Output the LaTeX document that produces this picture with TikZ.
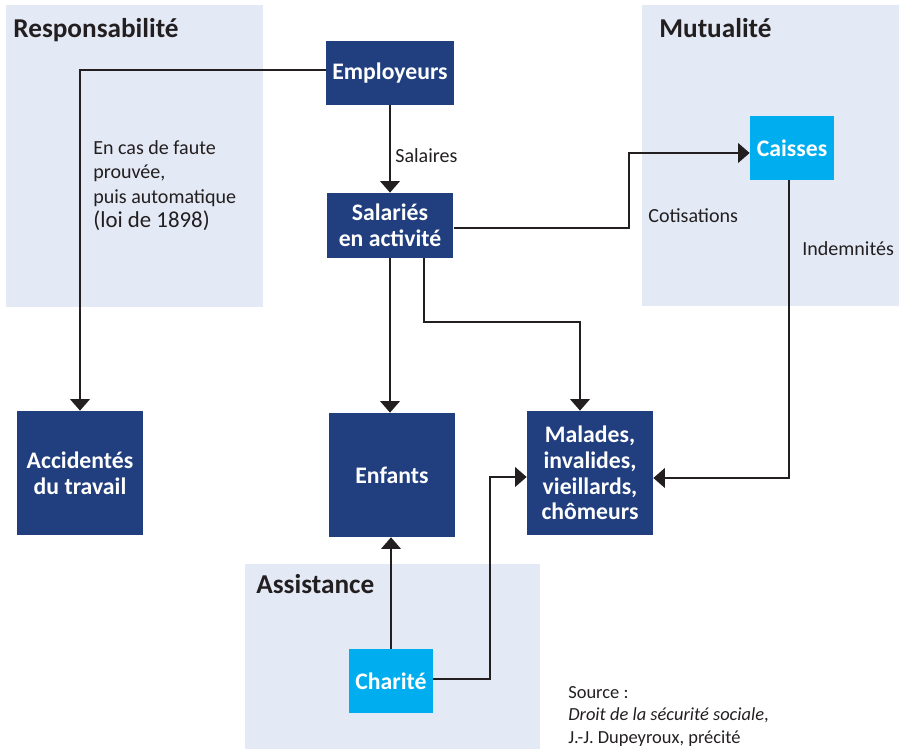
\documentclass[tikz,border=0pt]{standalone}
\usepackage{fontspec}
\setmainfont{Carlito}
\usetikzlibrary{arrows.meta}
\definecolor{boxblue}{HTML}{213F7E}
\definecolor{boxcyan}{HTML}{00AEEF}
\definecolor{panelblue}{HTML}{E3E9F5}
\definecolor{linegray}{HTML}{231F20}
\tikzset{
    panel/.style={fill=panelblue},
    heading/.style={anchor=base west,inner sep=0pt,text=linegray,font=\fontsize{15.5}{18}\selectfont\bfseries},
    darkbox/.style={fill=boxblue,text=white,align=center,inner sep=0pt,font=\fontsize{13.5}{14.6}\selectfont\bfseries},
    lightbox/.style={darkbox,fill=boxcyan},
    notetext/.style={inner sep=0pt,text=linegray,align=left,font=\fontsize{11.4}{13.9}\selectfont},
    link/.style={draw=linegray,line width=1.15pt,-{Triangle[length=6.5pt,width=11pt]}}
}
\begin{document}
\begin{tikzpicture}[x=0.02cm,y=-0.02cm]
        \useasboundingbox (0,0) rectangle (899,749);
        %% panels
        \foreach \a/\b/\c/\d in {6/5/263/307,642/5/899/306,245/564/540/749} {
            \fill[panel] (\a,\b) rectangle (\c,\d);
        }
        \node[heading] (resp) at (13,38) {Responsabilité};
        \node[heading] (mutu) at (659,38) {Mutualité};
        \node[heading] (assi) at (256,593) {Assistance};
        %% boxes
        \node[darkbox,minimum width=2.56cm,minimum height=1.28cm] (empl) at (390,73) {Employeurs};
        \node[darkbox,minimum width=2.54cm,minimum height=1.3cm] (sala) at (390,225.5) {Salariés\\en activité};
        \node[lightbox,minimum width=1.68cm,minimum height=1.28cm] (cais) at (792,148) {Caisses};
        \node[darkbox,minimum width=2.52cm,minimum height=2.48cm] (acci) at (80,473) {Accidentés\\du travail};
        \node[darkbox,minimum width=2.52cm,minimum height=2.48cm] (enfa) at (392,475) {Enfants};
        \node[darkbox,minimum width=2.52cm,minimum height=2.48cm] (mala) at (590,473) {Malades,\\invalides,\\vieillards,\\chômeurs};
        \node[lightbox,minimum width=1.68cm,minimum height=1.28cm] (char) at (391,681) {Charité};
        %% texts
        \node[notetext,anchor=north west] (faute) at (93,140) {En cas de faute\\prouvée,\\puis automatique\\{\fontsize{13}{13.9}\selectfont(loi de 1898)}};
        \node[notetext,anchor=base west] (sal) at (395,163) {Salaires};
        \node[notetext,anchor=base west] (coti) at (648,223) {Cotisations};
        \node[notetext,anchor=base west] (inde) at (802,256) {Indemnités};
        \node[notetext,anchor=north west,font=\fontsize{10.5}{12.8}\selectfont] (sour) at (568,686) {Source :\\\textit{Droit de la sécurité sociale},\\J.-J. Dupeyroux, précité};
        %% links
        \draw[link] ([yshift=0.06cm]empl.west) -| (acci.north);
        \draw[link] (empl) -- (sala);
        \draw[link] ([yshift=-0.05cm]sala.east) -- ++(175,0) |- ([yshift=-0.1cm]cais.west);
        \draw[link] (sala.south) -- (sala.south |- enfa.north);
        \draw[link] ([xshift=0.68cm]sala.south) -- ++(0,64) -| ([xshift=-0.2cm]mala.north);
        \draw[link] ([xshift=-0.06cm]cais.south) |- ([yshift=-0.1cm]mala.east);
        \draw[link] ([yshift=0.04cm]char.east) -- ++(57,0) |- ([yshift=-0.08cm]mala.west);
        \draw[link] (char.north) -- (char.north |- enfa.south);
    \end{tikzpicture}
\end{document}
